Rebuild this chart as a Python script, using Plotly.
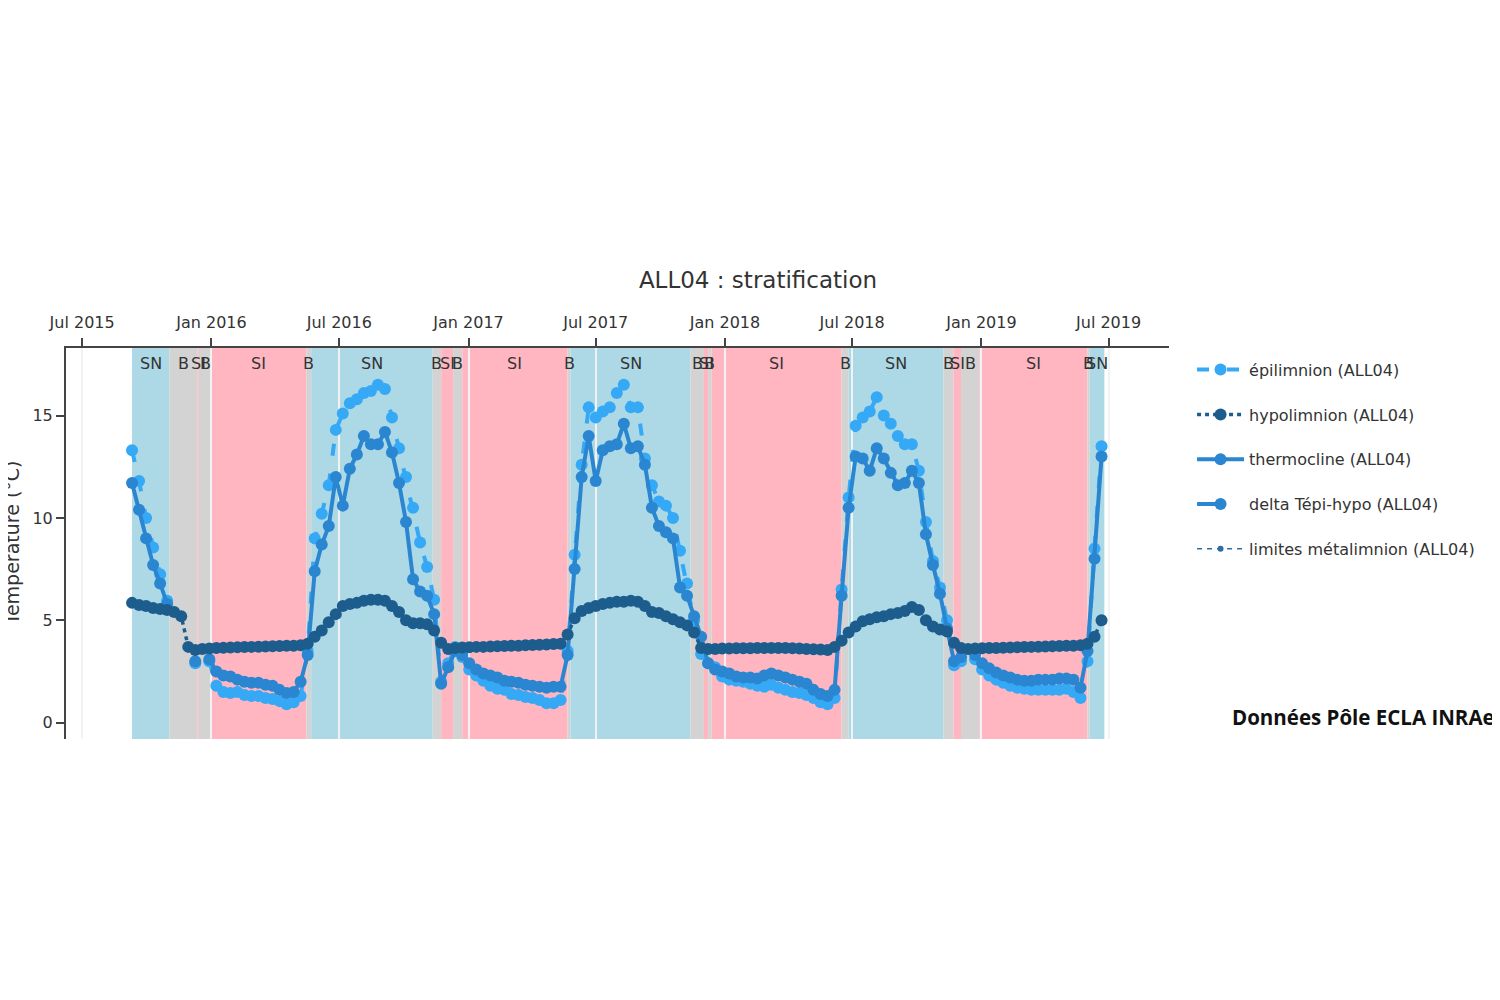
import pandas as pd
import plotly.graph_objects as go

# ---------------- data ----------------
dates = pd.date_range("2015-09-10", periods=139, freq="10D")

epi = [13.3, 11.8, 10.0, 8.55, 7.25, 5.95, None, None, None, 2.9,
       None, 3.0, 1.8, 1.5, 1.45, 1.5, 1.35, 1.3, 1.3, 1.2,
       1.15, 1.05, 0.9, 1.0, 1.3, 3.5, 9.0, 10.2, 11.6, 14.3,
       15.1, 15.6, 15.8, 16.1, 16.2, 16.5, 16.3, 14.9, 13.4, 12.0,
       10.5, 8.8, 7.6, 6.0, 2.0, 2.9, 3.7, 3.2, 2.6, 2.3,
       2.05, 1.8, 1.65, 1.6, 1.4, 1.35, 1.25, 1.2, 1.1, 0.95,
       0.95, 1.1, 3.5, 8.2, 12.6, 15.4, 14.9, 15.2, 15.4, 16.1,
       16.5, 15.4, 15.4, 12.9, 11.6, 10.8, 10.6, 10.0, 8.4, 6.8,
       5.0, 3.35, 2.9, 2.7, 2.25, 2.1, 2.05, 2.0, 1.9, 1.8,
       1.75, 1.85, 1.7, 1.6, 1.5, 1.45, 1.35, 1.2, 1.0, 0.9,
       1.2, 6.5, 11.0, 14.5, 14.9, 15.2, 15.9, 15.0, 14.6, 14.0,
       13.6, 13.6, 12.3, 9.8, 7.9, 6.6, 5.0, 2.8, 3.0, None,
       3.1, 2.6, 2.3, 2.1, 1.95, 1.8, 1.7, 1.65, 1.6, 1.6,
       1.6, 1.6, 1.6, 1.65, 1.5, 1.2, 3.0, 8.5, 13.5]

thermo = [11.7, 10.4, 9.0, 7.7, 6.8, 5.8, None, None, None, 3.0,
          None, 3.1, 2.5, 2.3, 2.25, 2.1, 2.0, 1.95, 1.95, 1.85,
          1.8, 1.6, 1.45, 1.5, 2.0, 3.3, 7.4, 8.7, 9.6, 12.0,
          10.6, 12.4, 13.1, 14.0, 13.6, 13.6, 14.2, 13.2, 11.7, 9.8,
          7.0, 6.4, 6.2, 5.3, 1.9, 2.7, 3.5, 3.3, 2.9, 2.6,
          2.4, 2.3, 2.2, 2.05, 2.0, 1.95, 1.85, 1.8, 1.75, 1.7,
          1.75, 1.75, 3.3, 7.5, 12.0, 14.0, 11.8, 13.3, 13.5, 13.6,
          14.6, 13.4, 13.5, 12.6, 10.5, 9.6, 9.3, 9.0, 6.6, 6.2,
          5.2, 4.2, 2.9, 2.6, 2.5, 2.4, 2.25, 2.2, 2.2, 2.15,
          2.3, 2.4, 2.3, 2.2, 2.1, 2.0, 1.9, 1.6, 1.4, 1.3,
          1.6, 6.2, 10.5, 13.0, 12.9, 12.3, 13.4, 12.9, 12.2, 11.6,
          11.7, 12.3, 11.7, 9.2, 7.7, 6.3, 4.6, 3.0, 3.2, None,
          3.3, 2.9, 2.65, 2.45, 2.3, 2.2, 2.1, 2.05, 2.05, 2.1,
          2.1, 2.1, 2.15, 2.15, 2.1, 1.7, 3.5, 8.0, 13.0]

hypo = [5.85, 5.75, 5.7, 5.6, 5.55, 5.5, 5.4, 5.2, 3.7, 3.55,
        3.6, 3.62, 3.65, 3.66, 3.67, 3.68, 3.69, 3.7, 3.71, 3.72,
        3.73, 3.74, 3.75, 3.76, 3.78, 3.85, 4.2, 4.5, 4.9, 5.3,
        5.7, 5.8, 5.85, 5.95, 6.0, 6.0, 5.95, 5.7, 5.4, 5.0,
        4.85, 4.85, 4.8, 4.5, 3.9, 3.6, 3.65, 3.67, 3.68, 3.7,
        3.7, 3.72, 3.73, 3.74, 3.75, 3.76, 3.78, 3.79, 3.8, 3.82,
        3.84, 3.85, 4.3, 5.1, 5.45, 5.6, 5.7, 5.8, 5.85, 5.9,
        5.9, 5.95, 5.9, 5.7, 5.4, 5.35, 5.2, 5.05, 4.9, 4.75,
        4.4, 3.65, 3.6, 3.6, 3.62, 3.62, 3.63, 3.63, 3.63, 3.64,
        3.64, 3.64, 3.64, 3.64, 3.63, 3.62, 3.6, 3.58, 3.57, 3.55,
        3.7, 4.0, 4.4, 4.7, 4.95, 5.05, 5.15, 5.2, 5.3, 5.35,
        5.45, 5.65, 5.5, 5.0, 4.7, 4.55, 4.45, 3.9, 3.65, 3.6,
        3.62, 3.63, 3.64, 3.65, 3.66, 3.67, 3.68, 3.69, 3.7, 3.71,
        3.72, 3.73, 3.74, 3.75, 3.76, 3.78, 3.85, 4.2, 5.0]

# series listed in the legend but with no visible values in the reference
delta_dates = ["2015-09-10"]
delta = [None]
limites_dates = ["2015-09-10"]
limites = [None]

band_start = ["2015-09-10", "2015-11-02", "2015-12-12", "2015-12-14", "2016-01-01",
              "2016-05-15", "2016-05-22", "2016-11-11", "2016-11-23", "2016-12-10",
              "2016-12-23", "2017-05-22", "2017-05-26", "2017-11-13", "2017-12-02",
              "2017-12-08", "2017-12-13", "2018-06-16", "2018-06-26", "2018-11-08",
              "2018-11-22", "2018-12-03", "2018-12-29", "2019-06-01", "2019-06-04"]
band_end = ["2015-11-02", "2015-12-12", "2015-12-14", "2016-01-01", "2016-05-15",
            "2016-05-22", "2016-11-11", "2016-11-23", "2016-12-10", "2016-12-23",
            "2017-05-22", "2017-05-26", "2017-11-13", "2017-12-02", "2017-12-08",
            "2017-12-13", "2018-06-16", "2018-06-26", "2018-11-08", "2018-11-22",
            "2018-12-03", "2018-12-29", "2019-06-01", "2019-06-04", "2019-06-25"]
band_type = ["SN", "B", "SI", "B", "SI",
             "B", "SN", "B", "SI", "B",
             "SI", "B", "SN", "B", "SI",
             "B", "SI", "B", "SN", "B",
             "SI", "B", "SI", "B", "SN"]

# ---------------- styling ----------------
FONT = "DejaVu Sans"
C_EPI = "#35a9f5"
C_HYPO = "#1c5d8e"
C_THERMO = "#2a86d0"
C_DELTA = "#2a86d0"
C_LIM = "#2b6ea6"
band_colors = {"SN": "#add8e6", "B": "#d3d3d3", "SI": "#ffb6c1"}
YMIN, YMAX = -0.8, 18.3
MS = 12
LW = 4

fig = go.Figure()

for s, e, t in zip(band_start, band_end, band_type):
    fig.add_shape(type="rect", xref="x", yref="y", x0=s, x1=e, y0=YMIN, y1=YMAX,
                  fillcolor=band_colors[t], line_width=0, layer="below")
    mid = pd.Timestamp(s) + (pd.Timestamp(e) - pd.Timestamp(s)) / 2
    fig.add_annotation(x=mid, y=1, xref="x", yref="paper", yanchor="top", yshift=-4,
                       text=t, showarrow=False,
                       font=dict(family=FONT, size=16, color="#333"))

fig.add_trace(go.Scatter(x=dates, y=epi, name="épilimnion (ALL04)", mode="lines+markers",
                         line=dict(color=C_EPI, width=LW, dash="12px,18px"),
                         marker=dict(size=MS, color=C_EPI), legendrank=1,
                         legendgroup="g1"))
fig.add_trace(go.Scatter(x=dates, y=thermo, name="thermocline (ALL04)", mode="lines+markers",
                         line=dict(color=C_THERMO, width=LW),
                         marker=dict(size=MS, color=C_THERMO), legendrank=3,
                         legendgroup="g3"))
fig.add_trace(go.Scatter(x=dates, y=hypo, name="hypolimnion (ALL04)", mode="lines+markers",
                         line=dict(color=C_HYPO, width=3.5, dash="4px,4px"),
                         marker=dict(size=MS, color=C_HYPO), legendrank=2,
                         legendgroup="g2"))
fig.add_trace(go.Scatter(x=delta_dates, y=delta, name="delta Tépi-hypo (ALL04)",
                         mode="lines+markers",
                         line=dict(color=C_DELTA, width=LW, dash="25px,25px"),
                         marker=dict(size=MS, color=C_DELTA), legendrank=4,
                         legendgroup="g4"))
fig.add_trace(go.Scatter(x=limites_dates, y=limites, name="limites métalimnion (ALL04)",
                         mode="lines+markers",
                         line=dict(color=C_LIM, width=1.5, dash="5px,5px"),
                         marker=dict(size=6, color=C_LIM), legendrank=5,
                         legendgroup="g5"))

# y-axis title (partly cut off by the left edge, as in the reference)
fig.add_annotation(text="Temperature (°C)", xref="paper", yref="paper", x=0, y=0.5,
                   xanchor="center", yanchor="middle", xshift=-55, textangle=-90,
                   showarrow=False, font=dict(family=FONT, size=19, color="#333"))

fig.add_annotation(text="<b>Données Pôle ECLA INRAe</b>", xref="paper", yref="paper",
                   x=1.0555, y=0.056, xanchor="left", yanchor="middle", showarrow=False,
                   font=dict(family="Open Sans", size=20.5, color="#111"))

fig.update_layout(
    width=1500, height=1000,
    margin=dict(l=58, r=339, t=340, b=269, autoexpand=False),
    paper_bgcolor="white", plot_bgcolor="white",
    font=dict(family=FONT, size=16, color="#444"),
    title=dict(text="ALL04 : stratification", x=0.5, xanchor="center",
               y=0.728, yanchor="middle", font=dict(family=FONT, size=23, color="#333")),
    showlegend=True,
    legend=dict(x=1.0209, y=0.988, xanchor="left", yanchor="top", traceorder="grouped",
                tracegroupgap=21, itemwidth=47,
                font=dict(family=FONT, size=16, color="#333"),
                bgcolor="rgba(0,0,0,0)"),
    xaxis=dict(side="top", range=["2015-06-08", "2019-09-25"], showline=True,
               linecolor="#444", linewidth=2, ticks="outside", ticklen=8, tickwidth=1.5,
               tickcolor="#444", tickformat="%b %Y", dtick="M6", tick0="2015-07-01",
               ticklabelstandoff=4,
               showgrid=True, gridcolor="#f2f2f2", gridwidth=2, zeroline=False,
               tickfont=dict(family=FONT, size=16, color="#333")),
    yaxis=dict(range=[YMIN, YMAX], tickvals=[0, 5, 10, 15], showline=True,
               linecolor="#444", linewidth=2, ticks="outside", ticklen=8, tickwidth=1.5,
               tickcolor="#444", showgrid=False, zeroline=False,
               tickfont=dict(family=FONT, size=16, color="#333")),
)

fig.write_html("out.html")
